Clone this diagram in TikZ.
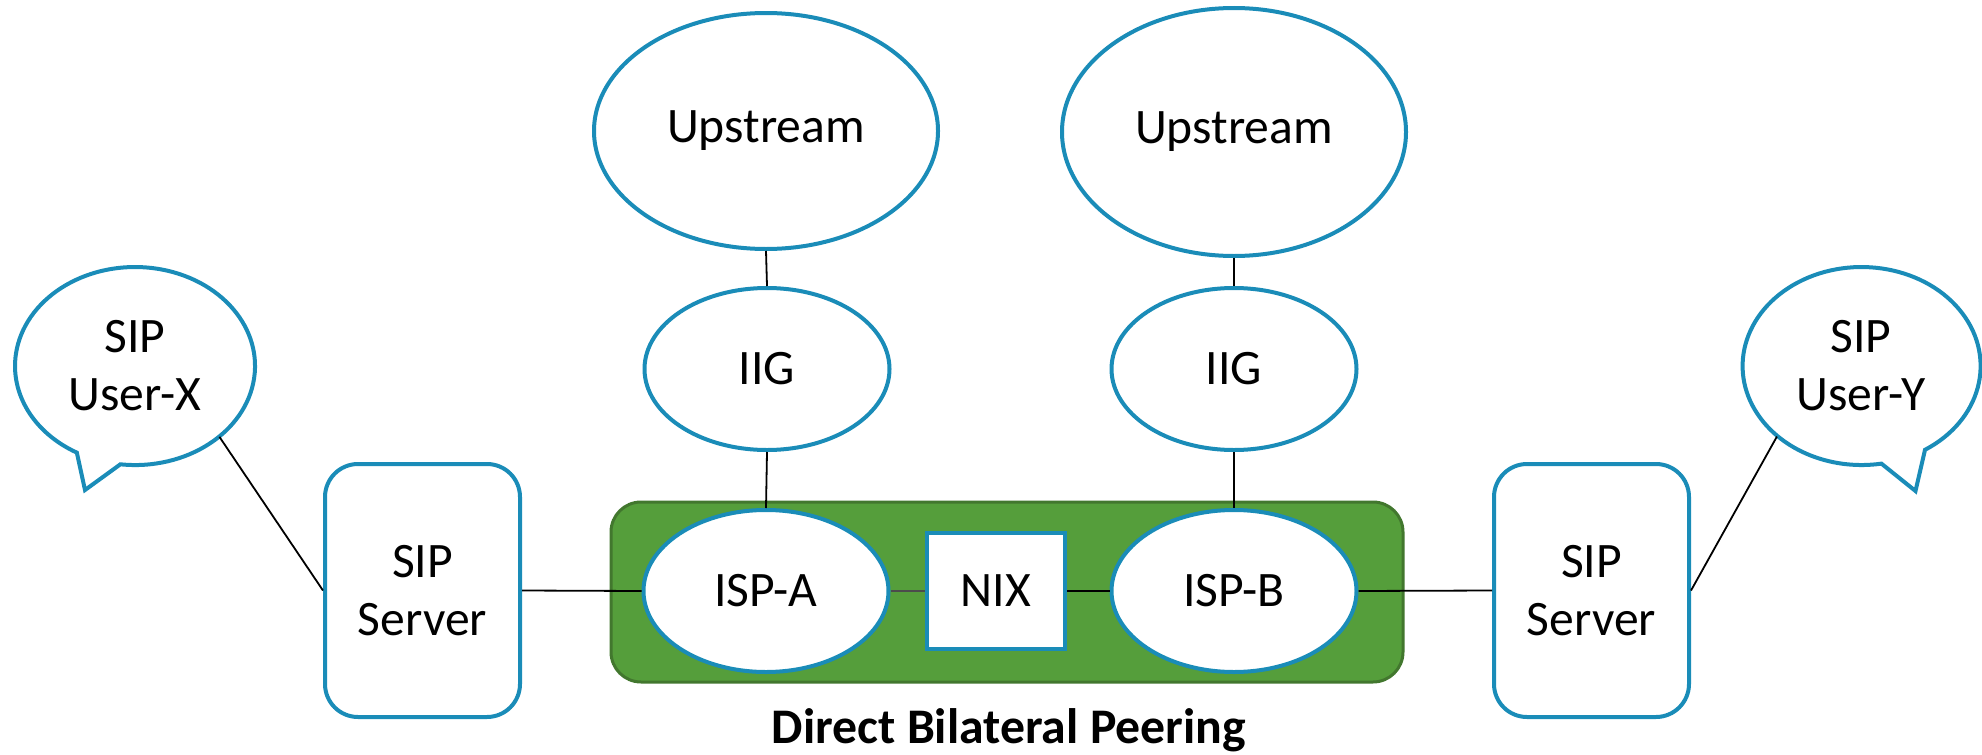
\documentclass[tikz,border=0pt]{standalone}
\usepackage{fontspec}
\setmainfont{Carlito}
\usetikzlibrary{shapes.geometric}
\definecolor{nodeblue}{HTML}{1A8CB8}
\definecolor{peergreen}{HTML}{559E3B}
\definecolor{peergreenb}{HTML}{42772E}
\begin{document}
\begin{tikzpicture}[x=0.5pt,y=-0.5pt,
  every node/.style={font=\fontsize{24.8}{29}\selectfont, align=center, inner sep=0pt},
  oval/.style={ellipse, draw=nodeblue, line width=2pt, fill=white},
  srv/.style={rectangle, rounded corners=16.5pt, draw=nodeblue, line width=2pt, fill=white, minimum width=97.5pt, minimum height=126.5pt},
  bubble/.style={draw=nodeblue, line width=2pt, line join=miter},
  link/.style={draw=black, line width=0.9pt},
  greylink/.style={draw=black!70, line width=0.9pt}]
\useasboundingbox (0,0) rectangle (1982,755);
% peering area
\node[rectangle, rounded corners=15pt, draw=peergreenb, fill=peergreen, line width=1.5pt,
      minimum width=396pt, minimum height=90pt] (peer) at (1007,592) {};
% nodes
\node[oval, minimum width=172pt, minimum height=118pt] (upa) at (766,131) {Upstream};
\node[oval, minimum width=172pt, minimum height=124pt] (upb) at (1234,132) {Upstream};
\node[oval, minimum width=122.5pt, minimum height=81pt] (iiga) at (767,369) {IIG};
\node[oval, minimum width=122.5pt, minimum height=81pt] (iigb) at (1234,369) {IIG};
\node[oval, minimum width=122.5pt, minimum height=81pt] (ispa) at (766,591) {ISP-A};
\node[oval, minimum width=122.5pt, minimum height=81pt] (ispb) at (1234,591) {ISP-B};
\node[rectangle, draw=nodeblue, line width=2pt, fill=white, minimum width=69pt, minimum height=58pt] (nix) at (996,591) {NIX};
\node[srv] (srvx) at (422.5,590.5) {SIP\\Server};
\node[srv] (srvy) at (1591.5,590.5) {SIP\\Server};
% speech bubbles
\draw[bubble] (120.4,464.3) arc[start angle=97, end angle=-241, x radius=120, y radius=99] -- (85,490) -- cycle;
\node[ellipse, minimum width=120pt, minimum height=99pt] (userx) at (135,366) {SIP\\User-X};
\draw[bubble] (1925,449.8) arc[start angle=57.8, end angle=-279.6, x radius=119, y radius=99] -- (1915.5,491) -- cycle;
\node[ellipse, minimum width=119pt, minimum height=99pt] (usery) at (1861,366) {SIP\\User-Y};
% connectors
\draw[link] (upa.south) -- (iiga.north);
\draw[link] (upb.south) -- (iigb.north);
\draw[link] (iiga.south) -- (ispa.north);
\draw[link] (iigb.south) -- (ispb.north);
\draw[greylink] (ispa.east) -- (nix.west);
\draw[link] (nix.east) -- (ispb.west);
\draw[link] (srvx.east) -- (ispa.west);
\draw[link] (ispb.east) -- (srvy.west);
\draw[link] (userx.-40) -- (srvx.west);
\draw[link] (usery.220) -- (srvy.east);
% caption
\node[font=\bfseries\fontsize{24.9}{29}\selectfont, anchor=base] (title) at (1009,743) {Direct Bilateral Peering};
\end{tikzpicture}
\end{document}
